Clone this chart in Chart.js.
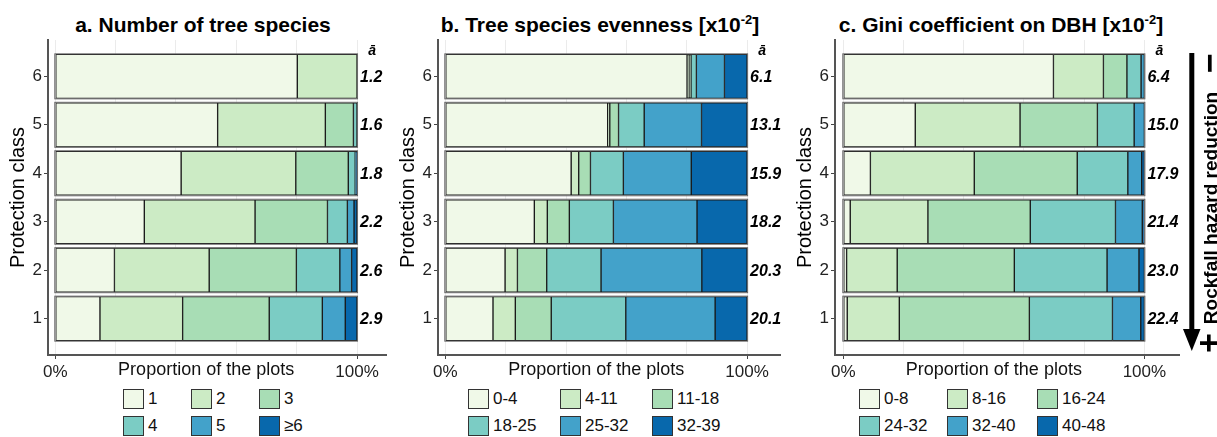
<!DOCTYPE html>
<html>
<head>
<meta charset="utf-8">
<script src="https://cdn.jsdelivr.net/npm/chart.js@4.4.1/dist/chart.umd.min.js"></script>
<style>
  body { margin: 0; background: #fff; font-family: "Liberation Sans", Arial, sans-serif; }
  #wrap { position: relative; width: 1217px; height: 437px; overflow: hidden; }
  canvas { position: absolute; top: 0; }
  .ttl { position: absolute; top: 13px; width: 400px; text-align: center; font-weight: bold; font-size: 21px; line-height: 24px; color: #000; white-space: nowrap; }
  .ttl sup { font-size: 13px; vertical-align: 8px; line-height: 0; }
  .leg { position: absolute; top: 389px; display: grid; row-gap: 7px; }
  .item { display: flex; align-items: center; height: 20px; }
  .key { width: 21px; height: 20px; box-sizing: border-box; border: 1.5px solid #333; }
  .lab { margin-left: 4px; font-size: 17px; line-height: 20px; color: #111; white-space: nowrap; }
</style>
</head>
<body>
<div id="wrap">
  <div class="ttl" style="left:3px">a. Number of tree species</div>
  <div class="ttl" style="left:400px">b. Tree species evenness [x10<sup>-2</sup>]</div>
  <div class="ttl" style="left:801px">c. Gini coefficient on DBH [x10<sup>-2</sup>]</div>

  <canvas id="chartA" width="400" height="385" style="left:0px"></canvas>
  <canvas id="chartB" width="400" height="385" style="left:390px"></canvas>
  <canvas id="chartC" width="400" height="385" style="left:787px"></canvas>

  <div class="leg" id="legA" style="left:123px; grid-template-columns: 68px 68px auto"></div>
  <div class="leg" id="legB" style="left:468px; grid-template-columns: 92px 92px auto"></div>
  <div class="leg" id="legC" style="left:859px; grid-template-columns: 88px 90px auto"></div>

  <svg width="40" height="437" style="position:absolute; left:1177px; top:0">
    <rect x="12.3" y="53" width="5" height="282" fill="#000"/>
    <polygon points="6,329 23.5,329 14.8,351" fill="#000"/>
    <text transform="translate(39.5,208) rotate(-90)" text-anchor="middle" font-weight="bold" font-size="19" font-family="Liberation Sans, Arial, sans-serif">Rockfall hazard reduction</text>
    <text transform="translate(33,63) rotate(-90)" y="11" text-anchor="middle" font-weight="bold" font-size="34" font-family="Liberation Sans, Arial, sans-serif">−</text>
    <text transform="translate(32,343) rotate(-90)" y="11" text-anchor="middle" font-weight="bold" font-size="34" font-family="Liberation Sans, Arial, sans-serif">+</text>
  </svg>
</div>

<script>
// protection classes (y axis, 1 at bottom)
const protectionClasses = [1, 2, 3, 4, 5, 6];
const palette = ['#f0f9e8', '#ccebc5', '#a8ddb5', '#7bccc4', '#43a2ca', '#0868ac'];
const xTickValues = [0, 20, 40, 60, 80, 100];

// a. number of tree species - share (%) per protection class 1..6
const speciesLabels = ['1', '2', '3', '4', '5', '≥6'];
const species1 = [14.8, 19.6, 29.5, 41.7, 53.8, 80.2];
const species2 = [27.4, 31.4, 36.7, 38.0, 35.7, 19.8];
const species3 = [28.7, 28.9, 24.0, 17.4, 9.3, 0];
const species4 = [17.6, 14.4, 6.6, 2.3, 1.2, 0];
const species5 = [7.6, 3.9, 2.2, 0.3, 0, 0];
const species6 = [3.9, 1.8, 1.0, 0.3, 0, 0];
const speciesMean = [2.9, 2.6, 2.2, 1.8, 1.6, 1.2];

// b. tree species evenness
const evenLabels = ['0-4', '4-11', '11-18', '18-25', '25-32', '32-39'];
const even1 = [15.8, 19.8, 29.5, 41.7, 53.8, 80.1];
const even2 = [7.4, 4.1, 4.3, 2.5, 0.7, 0.7];
const even3 = [11.9, 9.7, 7.3, 3.9, 2.9, 0.6];
const even4 = [24.7, 18.0, 14.6, 10.9, 8.5, 1.8];
const even5 = [29.6, 33.4, 27.7, 22.5, 19.0, 9.3];
const even6 = [10.6, 15.0, 16.6, 18.5, 15.1, 7.5];
const evenMean = [20.1, 20.3, 18.2, 15.9, 13.1, 6.1];

// c. gini coefficient on DBH
const giniLabels = ['0-8', '8-16', '16-24', '24-32', '32-40', '40-48'];
const gini1 = [1.3, 1.1, 2.3, 9.0, 23.9, 69.8];
const gini2 = [17.3, 16.8, 25.8, 34.5, 34.8, 16.6];
const gini3 = [43.2, 38.9, 34.0, 34.2, 25.7, 7.8];
const gini4 = [27.6, 30.8, 28.3, 16.8, 12.2, 4.7];
const gini5 = [9.4, 10.6, 8.9, 4.6, 3.4, 1.1];
const gini6 = [1.2, 1.8, 0.7, 0.9, 0, 0];
const giniMean = [22.4, 23.0, 21.4, 17.9, 15.0, 6.4];

const FONT = '"Liberation Sans", Arial, sans-serif';

// mean values on the right, x title, bar frames
const extrasPlugin = {
    id: 'extras',
    afterDatasetsDraw(chart) {
        const {ctx, scales: {x, y}} = chart;
        ctx.save();
        ctx.strokeStyle = '#666';
        ctx.lineWidth = 1;
        protectionClasses.forEach(c => {
            const yc = y.getPixelForValue(c);
            const l = x.getPixelForValue(0), r = x.getPixelForValue(100);
            ctx.strokeRect(l - 0.5, yc - 22.5, r - l + 1, 45);
        });
        ctx.restore();
    },
    afterDraw(chart, args, opts) {
        const {ctx, chartArea, scales: {x, y}} = chart;
        const p100 = x.getPixelForValue(100);
        ctx.save();
        ctx.fillStyle = '#000';
        ctx.textBaseline = 'middle';
        ctx.textAlign = 'left';
        ctx.font = 'italic bold 16px ' + FONT;
        protectionClasses.forEach((c, i) => {
            ctx.fillText(opts.means[i].toFixed(1), p100 + 3, y.getPixelForValue(c) + 1);
        });
        ctx.textAlign = 'center';
        ctx.font = 'italic bold 14px ' + FONT;
        ctx.fillText('ā', p100 + 15, y.getPixelForValue(6.5) - 1);
        ctx.font = '18px ' + FONT;
        ctx.fillStyle = '#111';
        ctx.fillText('Proportion of the plots', x.getPixelForValue(50), chartArea.bottom + 15);
        ctx.restore();
    }
};

function makePanel(id, labels, series, means, xMin, xMax, padRight) {
    const datasets = series.map((vals, k) => ({
        label: labels[k],
        data: protectionClasses.map((c, i) => ({x: vals[i], y: c})),
        backgroundColor: palette[k],
        borderColor: '#1a1a1a',
        borderWidth: 1,
        borderSkipped: false,
        barThickness: 44
    }));

    new Chart(document.getElementById(id), {
        type: 'bar',
        data: {datasets: datasets},
        options: {
            indexAxis: 'y',
            responsive: false,
            animation: false,
            layout: {padding: {top: 40, right: padRight, left: 0, bottom: 0}},
            plugins: {
                legend: {display: false},
                tooltip: {enabled: false},
                extras: {means: means}
            },
            scales: {
                x: {
                    type: 'linear',
                    stacked: true,
                    min: xMin,
                    max: xMax,
                    afterBuildTicks: s => { s.ticks = xTickValues.map(v => ({value: v})); },
                    afterFit: s => { s.height = 30; },
                    grid: {
                        color: '#ebebeb',
                        lineWidth: 1,
                        tickLength: 4,
                        tickColor: c => (c.tick && c.tick.value % 100 === 0) ? '#444' : 'rgba(0,0,0,0)'
                    },
                    border: {display: true, color: '#555', width: 2},
                    ticks: {
                        padding: 3,
                        maxRotation: 0,
                        autoSkip: false,
                        color: '#222',
                        font: {family: FONT, size: 17},
                        callback: v => v === 0 ? '0%' : (v === 100 ? '100%' : '')
                    }
                },
                y: {
                    type: 'linear',
                    stacked: true,
                    offset: false,
                    min: 0.25,
                    max: 6.75,
                    afterBuildTicks: s => { s.ticks = protectionClasses.map(v => ({value: v})); },
                    afterFit: s => { s.width = 48; },
                    grid: {offset: false, drawOnChartArea: false, tickLength: 4, tickColor: '#444'},
                    border: {display: true, color: '#555', width: 2},
                    ticks: {
                        padding: 2,
                        color: '#222',
                        font: {family: FONT, size: 17}
                    },
                    title: {
                        display: true,
                        text: 'Protection class',
                        color: '#000',
                        font: {family: FONT, size: 20},
                        padding: {top: 6, bottom: 0}
                    }
                }
            }
        },
        plugins: [extrasPlugin]
    });
}

function makeLegend(id, labels) {
    const box = document.getElementById(id);
    labels.forEach((lab, k) => {
        const item = document.createElement('div');
        item.className = 'item';
        item.innerHTML = '<span class="key" style="background:' + palette[k] + '"></span><span class="lab">' + lab + '</span>';
        box.appendChild(item);
    });
}

makePanel('chartA', speciesLabels, [species1, species2, species3, species4, species5, species6], speciesMean, -2.42, 109.6, 14);
makePanel('chartB', evenLabels, [even1, even2, even3, even4, even5, even6], evenMean, -2.42, 110.9, 10);
makePanel('chartC', giniLabels, [gini1, gini2, gini3, gini4, gini5, gini6], giniMean, -2.76, 111.5, 8);

makeLegend('legA', speciesLabels);
makeLegend('legB', evenLabels);
makeLegend('legC', giniLabels);
</script>
</body>
</html>
